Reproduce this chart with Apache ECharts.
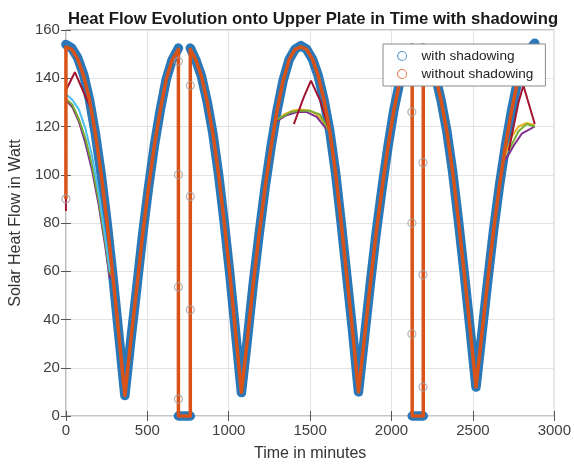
<!DOCTYPE html>
<html>
<head>
<meta charset="utf-8">
<script src="https://cdn.jsdelivr.net/npm/echarts@6/dist/echarts.min.js"></script>
<style>html,body{margin:0;padding:0;background:#fff}#c{width:574px;height:467px}</style>
</head>
<body>
<div id="c"></div>
<script>
// ---- data (time in minutes, heat flow in W) ----
const tWith = [0,36,72,109,145,181,217,253,290,326,362,398,435,471,507,543,580,616,652,691,null,
  691,710,730,764,null,
  764,797,832,867,903,938,973,1008,1043,1078,1115,1151,1188,1224,1261,1298,1334,1371,1407,1444,
  1479,1515,1550,1585,1621,1656,1691,1726,1762,1797,1833,1870,1906,1943,1979,2015,2052,2088,2127,null,
  2127,2150,2170,2195,null,
  2195,2233,2268,2304,2340,2376,2411,2447,2483,2519,2555,2591,2627,2663,2700,2736,2772,2808,2844,2880];
const vWith = [154,152.5,148.5,141.5,131,117,100,80,57,33,8.5,31,53,75,94.5,112,127,139.5,147.5,152.5,null,
  0,0,0,0,null,
  152.5,147.7,141,130.5,117,100,80,58,34,9.7,32,55,76,95,112,127,139,147.7,152,153.5,
  152,147.8,141,131,118,101,80,57.5,34.5,10,32,55,76,95,112,127,139,148,152.5,null,
  0,0,0,0,null,
  152.5,148.3,141.5,131,118,101,81,59,36,12,34,56,77,95.5,112,126,138,146.5,151.5,154.5];

const tWithout = [0,0,36,72,109,145,181,217,253,290,326,362,398,435,471,507,543,580,616,652,691,691,764,764,
  797,832,867,903,938,973,1008,1043,1078,1115,1151,1188,1224,1261,1298,1334,1371,1407,1444,
  1479,1515,1550,1585,1621,1656,1691,1726,1762,1797,1833,1870,1906,1943,1979,2015,2052,2088,2127,2127,2195,2195,
  2233,2268,2304,2340,2376,2411,2447,2483,2519,2555,2591,2627,2663,2700,2736,2772,2808,2844,2880];
const vWithout = [90,153,152,148,141,131,117,100,80,57,33,8.5,31,53,75,94.5,112,127,139.5,147.5,152,0,0,152,
  147.7,141,130.5,117,100,80,58,34,9.7,32,55,76,95,112,127,139,147.7,152,153,
  152,147.8,141,131,118,101,80,57.5,34.5,10,32,55,76,95,112,127,139,148,152,0,0,152,
  148.3,141.5,131,118,101,81,59,36,12,34,56,77,95.5,112,126,138,146.5,151.5,153];

// other components (drawn where they differ from the main curve)
const tYellow = [0,40,80,120,160,200,240,270,null,1290,1340,1390,1440,1500,1540,1580,1620,null,2700,2740,2780,2830,2880];
const vYellow = [131,128,122,114,103,89,72,58,null,122,125,126.5,127,126.5,125,122,118,null,108,116,120,121.5,120.5];
const tPurple = [0,40,80,120,160,200,240,270,null,1290,1350,1420,1480,1540,1600,null,2700,2750,2800,2880];
const vPurple = [131,128,122,113,102,88,71,57,null,122,124.5,126,126,124,119,null,106,112,117,120];
const tGreen = [0,40,80,120,160,200,240,270,null,1300,1380,1440,1500,1560,1610,null,2720,2780,2830,2880];
const vGreen = [131.5,129,123,115,104,90,73,59,null,123,126,126.5,126.5,125,119,null,110,118,121,120];
const tCyan = [0,40,80,120,160,200,240,270];
const vCyan = [133.5,131,127,119,108,93,75,60];
const tRed = [0,0,55,110,150,null,1400,1460,1505,1560,1620,null,2720,2780,2810,2880];
const vRed = [85,135,142.5,134,128,null,121,132,139,131,118,null,110,130,137,121];

const tMarks = [0,691,691,691,691,764,764,764,2125,2125,2125,2193,2193,2193];
const vMarks = [90,147,100,53.5,7,137,91,44,126,80,34,105,58.5,12];

const xTicks = [0,500,1000,1500,2000,2500,3000];
const yTicks = [0,20,40,60,80,100,120,140,160];

function zip(t, v){ return t.map((x,i)=> (x===null||v[i]===null) ? ['-','-'] : [x, v[i]]); }

const chart = echarts.init(document.getElementById('c'));
const FONT = 'Liberation Sans, Arial, sans-serif';
const thin = (name, t, v, color) => ({
  name, type:'line', data: zip(t,v), showSymbol:false, symbol:'none', connectNulls:false,
  lineStyle:{color, width:2}, itemStyle:{color}, z:3, silent:true, animation:false
});
const tickStyle = {show:true, inside:true, length:5, lineStyle:{color:'#555'}};
chart.setOption({
  animation:false,
  backgroundColor:'#fff',
  title:{text:'Heat Flow Evolution onto Upper Plate in Time with shadowing', left:308, top:6, textAlign:'center',
    textStyle:{fontFamily:FONT, fontSize:16.7, fontWeight:'bold', color:'#1a1a1a'}},
  grid:{left:64, right:17, top:30, bottom:51, show:true, borderColor:'#8c8c8c', borderWidth:1},
  legend:{orient:'vertical', left:383, top:44, z:20, backgroundColor:'#fff', borderColor:'#8a8a8a', borderWidth:1,
    padding:[5,12,5,14], itemGap:4, itemWidth:9, itemHeight:9, icon:'circle',
    formatter: n => '{g|}' + n,
    textStyle:{fontFamily:FONT, fontSize:13.6, color:'#222', rich:{g:{width:10}}},
    data:[{name:'with shadowing', itemStyle:{color:'#fff', borderColor:'#5a9fcf', borderWidth:1.1}},
          {name:'without shadowing', itemStyle:{color:'#fff', borderColor:'#e0865a', borderWidth:1.1}}]},
  xAxis:[{type:'value', min:xTicks[0], max:xTicks[xTicks.length-1], interval:500,
    name:'Time in minutes', nameLocation:'middle', nameGap:30,
    nameTextStyle:{fontFamily:FONT, fontSize:16, color:'#333'},
    axisLine:{show:false}, axisTick:tickStyle,
    axisLabel:{fontFamily:FONT, fontSize:15, color:'#404040', margin:7, formatter: v => String(v)},
    splitLine:{show:true, lineStyle:{color:'#e3e3e3', width:1}}},
   {type:'value', position:'top', min:0, max:3000, interval:500, axisLine:{show:false},
    axisTick:tickStyle, axisLabel:{show:false}, splitLine:{show:false}}],
  yAxis:[{type:'value', min:yTicks[0], max:yTicks[yTicks.length-1], interval:20,
    name:'Solar Heat Flow in Watt', nameLocation:'middle', nameGap:39,
    nameTextStyle:{fontFamily:FONT, fontSize:16, color:'#333'},
    axisLine:{show:false}, axisTick:tickStyle,
    axisLabel:{fontFamily:FONT, fontSize:15, color:'#404040', margin:6, formatter: v => String(v)},
    splitLine:{show:true, lineStyle:{color:'#e3e3e3', width:1}}},
   {type:'value', position:'right', min:0, max:160, interval:20, axisLine:{show:false},
    axisTick:tickStyle, axisLabel:{show:false}, splitLine:{show:false}}],
  series:[
    {name:'with shadowing', type:'line', data:zip(tWith,vWith), showSymbol:false, symbol:'none', connectNulls:false, clip:false,
      lineStyle:{color:'#2a78b8', width:9.5, cap:'round', join:'round'}, itemStyle:{color:'#2a78b8'}, z:2},
    thin('yellow', tYellow, vYellow, '#EDB120'),
    thin('purple', tPurple, vPurple, '#7E2F8E'),
    thin('green', tGreen, vGreen, '#77AC30'),
    thin('cyan', tCyan, vCyan, '#4DBEEE'),
    thin('red', tRed, vRed, '#A2142F'),
    {name:'without shadowing', type:'line', data:zip(tWithout,vWithout), showSymbol:false, symbol:'none', clip:false,
      lineStyle:{color:'#D95319', width:3.5, join:'round'}, itemStyle:{color:'#D95319'}, z:4},
    {name:'marks', type:'scatter', data:zip(tMarks,vMarks), symbol:'circle', symbolSize:8,
      itemStyle:{color:'rgba(0,0,0,0)', borderColor:'#a89f9c', borderWidth:1.2}, z:5, silent:true}
  ]
});
</script>
</body>
</html>
